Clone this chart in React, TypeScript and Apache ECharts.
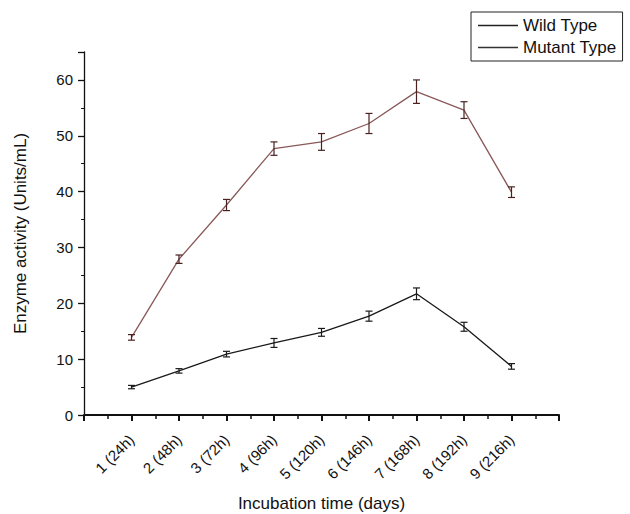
import React, { useEffect, useRef } from "react";
import * as echarts from "echarts";

const categories = ["1 (24h)", "2 (48h)", "3 (72h)", "4 (96h)", "5 (120h)", "6 (146h)", "7 (168h)", "8 (192h)", "9 (216h)"];
const wildValues = [5.0, 7.9, 10.9, 12.9, 14.8, 17.7, 21.7, 15.8, 8.7];
const wildErrors = [0.3, 0.4, 0.5, 0.8, 0.7, 0.9, 1.05, 0.8, 0.5];
const mutantValues = [13.9, 27.9, 37.6, 47.7, 48.9, 52.2, 57.9, 54.6, 39.9];
const mutantErrors = [0.5, 0.75, 1.0, 1.2, 1.5, 1.8, 2.1, 1.5, 0.95];

const WILD_COLOR = "#1a1a1a";
const MUTANT_COLOR = "#8a5858";
const MUTANT_ERR = "#4a2020";
const FONT = "Liberation Sans, Arial, sans-serif";

export default function App() {
  const ref = useRef<HTMLDivElement>(null);
  useEffect(() => {
    if (!ref.current) return;
    const chart = echarts.init(ref.current, undefined, { renderer: "svg" });
    const toXY = (vals: number[]) => vals.map((v, i) => [i + 1, v]);
    const toErr = (vals: number[], errs: number[]) => vals.map((v, i) => [i + 1, v - errs[i], v + errs[i]]);
    const errRender = (color: string) => (params: any, api: any) => {
      const x = api.value(0);
      const lo = api.coord([x, api.value(1)]);
      const hi = api.coord([x, api.value(2)]);
      const w = 3.5;
      const style = { stroke: color, lineWidth: 1.2 };
      return {
        type: "group",
        children: [
          { type: "line", shape: { x1: lo[0], y1: lo[1], x2: hi[0], y2: hi[1] }, style },
          { type: "line", shape: { x1: lo[0] - w, y1: lo[1], x2: lo[0] + w, y2: lo[1] }, style },
          { type: "line", shape: { x1: hi[0] - w, y1: hi[1], x2: hi[0] + w, y2: hi[1] }, style },
        ],
      };
    };
    chart.setOption({
      animation: false,
      textStyle: { fontFamily: FONT },
      grid: { left: 84, right: 71, top: 52, bottom: 99, containLabel: false, outerBoundsMode: "none" },
      legend: {
        left: 471,
        top: 12,
        orient: "vertical",
        borderColor: "#222",
        borderWidth: 1,
        borderRadius: 0,
        padding: [5, 6, 5, 7],
        itemGap: 5,
        itemWidth: 40,
        itemHeight: 1.5,
        icon: "rect",
        textStyle: { fontSize: 17, color: "#111", fontFamily: FONT },
        data: [
          { name: "Wild Type", itemStyle: { color: "#222" } },
          { name: "Mutant Type", itemStyle: { color: "#333" } },
        ],
      },
      xAxis: {
        type: "value",
        min: 0,
        max: 10,
        interval: 1,
        name: "Incubation time (days)",
        nameLocation: "middle",
        nameGap: 80,
        nameTextStyle: { fontSize: 17, color: "#111" },
        axisLine: { lineStyle: { color: "#111", width: 2 } },
        axisTick: { show: true, length: 6, lineStyle: { color: "#111", width: 2 } },
        minorTick: { show: true, splitNumber: 2, length: 4, lineStyle: { color: "#111", width: 1.5 } },
        splitLine: { show: false },
        axisLabel: {
          rotate: 45,
          fontSize: 15,
          color: "#111",
          margin: 22,
          formatter: (v: number) => (v >= 1 && v <= 9 ? categories[Math.round(v) - 1] : ""),
        },
      },
      yAxis: {
        type: "value",
        min: 0,
        max: 65,
        interval: 10,
        name: "Enzyme activity (Units/mL)",
        nameLocation: "middle",
        nameGap: 55,
        nameTextStyle: { fontSize: 17, color: "#111" },
        axisLine: { show: true, lineStyle: { color: "#111", width: 1.3 } },
        axisTick: { show: true, length: 6, lineStyle: { color: "#111", width: 1.3 } },
        minorTick: { show: true, splitNumber: 2, length: 3, lineStyle: { color: "#111" } },
        splitLine: { show: false },
        axisLabel: {
          fontSize: 15,
          color: "#111",
          margin: 11,
          formatter: (v: number) => (v % 10 === 0 ? String(v) : ""),
        },
      },
      series: [
        {
          name: "Wild Type",
          type: "line",
          data: toXY(wildValues),
          symbol: "none",
          lineStyle: { color: WILD_COLOR, width: 1.3 },
          itemStyle: { color: WILD_COLOR },
          z: 3,
        },
        {
          name: "Mutant Type",
          type: "line",
          data: toXY(mutantValues),
          symbol: "none",
          lineStyle: { color: MUTANT_COLOR, width: 1.3 },
          itemStyle: { color: MUTANT_COLOR },
          z: 3,
        },
        {
          name: "Wild err",
          type: "custom",
          renderItem: errRender(WILD_COLOR),
          data: toErr(wildValues, wildErrors),
          encode: { x: 0, y: [1, 2] },
          z: 4,
        },
        {
          name: "Mutant err",
          type: "custom",
          renderItem: errRender(MUTANT_ERR),
          data: toErr(mutantValues, mutantErrors),
          encode: { x: 0, y: [1, 2] },
          z: 4,
        },
      ],
    });
    return () => chart.dispose();
  }, []);
  return <div ref={ref} style={{ position: "absolute", left: 0, top: 0, width: 630, height: 514 }} />;
}
